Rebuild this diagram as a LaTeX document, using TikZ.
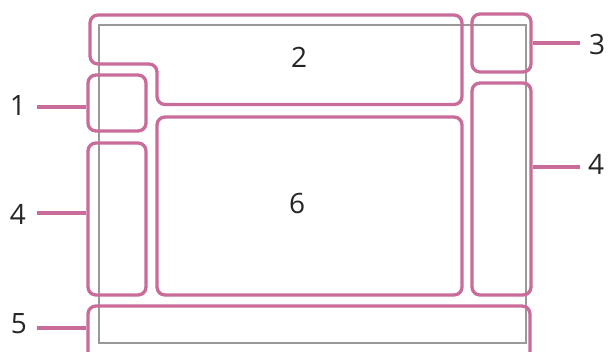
\documentclass[tikz,border=0pt]{standalone}
\usepackage{fontspec}
\setmainfont{Open Sans}
\begin{document}
\begin{tikzpicture}[x=1pt,y=-1pt,
  pinkline/.style={draw=pinkc,line width=3.3pt,rounded corners=8pt},
  panel/.style={pinkline,rectangle,inner sep=0pt,anchor=center},
  lbl/.style={font=\fontsize{28}{30}\selectfont,text=black!85,inner sep=0pt},
  leader/.style={draw=pinkc,line width=3.3pt},
  screen/.style={draw=black!40,line width=1.1pt}]
\definecolor{pinkc}{HTML}{C96C9A}
\clip (0,0) rectangle (609,351);
\fill[white] (0,0) rectangle (609,351);
% screen outline
\draw[screen] (99,25) rectangle (526,343);
% panels
\node[panel,minimum width=58pt,minimum height=56pt] (b1) at (117,103) {};
\node[panel,minimum width=58pt,minimum height=152pt] (b4l) at (117,219) {};
\node[panel,minimum width=305pt,minimum height=178pt] (b6) at (309.5,206) {};
\node[panel,minimum width=59pt,minimum height=58pt] (b3) at (501.5,43) {};
\node[panel,minimum width=59pt,minimum height=212pt] (b4r) at (501.5,189) {};
\node[panel,minimum width=442pt,minimum height=54pt] (b5) at (309,333) {};
\draw[pinkline] (90,15) -- (462,15) -- (462,104.5) -- (157,104.5) -- (157,64) -- (90,64) -- cycle;
% labels
\node[lbl] (t2) at (299,57) {2};
\node[lbl] (t6) at (297,203) {6};
\node[lbl] (t1) at (18,106) {1};
\node[lbl] (t4l) at (18,214) {4};
\node[lbl] (t5) at (19,324) {5};
\node[lbl] (t3) at (597,44) {3};
\node[lbl] (t4r) at (596,164) {4};
% leaders
\coordinate (c1) at (37,107);
\coordinate (c4l) at (37,213);
\coordinate (c5) at (37,328);
\coordinate (c3) at (580,43);
\coordinate (c4r) at (580,167);
\draw[leader] (c1) -- (c1 -| b1.west);
\draw[leader] (c4l) -- (c4l -| b4l.west);
\draw[leader] (c5) -- (c5 -| b5.west);
\draw[leader] (c3) -- (c3 -| b3.east);
\draw[leader] (c4r) -- (c4r -| b4r.east);
\end{tikzpicture}
\end{document}
